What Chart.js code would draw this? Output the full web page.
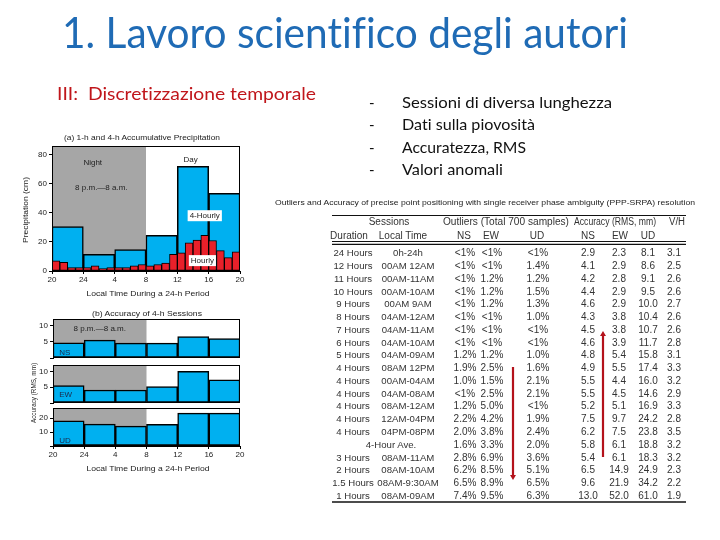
<!DOCTYPE html>
<html>
<head>
<meta charset="utf-8">
<script src="https://cdn.jsdelivr.net/npm/chart.js@4.4.0/dist/chart.umd.min.js"></script>
<style>
  body { margin: 0; background: #fff; }
  #slide { position: relative; width: 720px; height: 540px; overflow: hidden; background: #fff; }
  canvas { position: absolute; }
  svg { position: absolute; left: 0; top: 0; }
  svg text { font-variant-ligatures: none; white-space: pre; }
</style>
</head>
<body>
<div id="slide">
  <canvas id="precip" width="228" height="150" style="left:20px;top:138px"></canvas>
  <canvas id="accNS" width="227" height="55" style="left:21px;top:311px"></canvas>
  <canvas id="accEW" width="227" height="54" style="left:21px;top:357px"></canvas>
  <canvas id="accUD" width="227" height="63" style="left:21px;top:400px"></canvas>
  <svg id="txt" width="720" height="540"></svg>
</div>
<script>
// ore dopo le 20:00, etichette dell'asse
const hourTicks = ['20', '24', '4', '8', '12', '16', '20'];
const nightFrom = 0;   // 20:00
const nightTo = 12;    // 08:00

// (a) precipitazione oraria e su 4 ore (cm)
const hourlyRain = [7, 6, 2.4, 2.4, 2.4, 3.5, 1.6, 2.4, 2.4, 2.4, 3.5, 4.5,
                    3.5, 4.5, 5.4, 11.5, 12.5, 19.3, 21.2, 24.5, 21, 14, 9.2, 13.2];
const fourHourRain = [30.5, 11.5, 14.8, 24.5, 72, 53.4];

// (b) accuratezza sessioni di 4 ore (RMS, mm)
const rmsNS = [4.7, 5.5, 4.6, 4.6, 6.6, 6.0];
const rmsEW = [5.5, 4.1, 4.1, 5.2, 10.0, 7.3];
const rmsUD = [18.1, 15.7, 14.3, 15.5, 23.6, 23.6];

// tabella
const tableHead = ['Duration', 'Local Time', 'NS', 'EW', 'UD', 'NS', 'EW', 'UD'];
const tableRows = [
  ['24 Hours', '0h-24h', '<1%', '<1%', '<1%', '2.9', '2.3', '8.1', '3.1'],
  ['12 Hours', '00AM 12AM', '<1%', '<1%', '1.4%', '4.1', '2.9', '8.6', '2.5'],
  ['11 Hours', '00AM-11AM', '<1%', '1.2%', '1.2%', '4.2', '2.8', '9.1', '2.6'],
  ['10 Hours', '00AM-10AM', '<1%', '1.2%', '1.5%', '4.4', '2.9', '9.5', '2.6'],
  ['9 Hours', '00AM 9AM', '<1%', '1.2%', '1.3%', '4.6', '2.9', '10.0', '2.7'],
  ['8 Hours', '04AM-12AM', '<1%', '<1%', '1.0%', '4.3', '3.8', '10.4', '2.6'],
  ['7 Hours', '04AM-11AM', '<1%', '<1%', '<1%', '4.5', '3.8', '10.7', '2.6'],
  ['6 Hours', '04AM-10AM', '<1%', '<1%', '<1%', '4.6', '3.9', '11.7', '2.8'],
  ['5 Hours', '04AM-09AM', '1.2%', '1.2%', '1.0%', '4.8', '5.4', '15.8', '3.1'],
  ['4 Hours', '08AM 12PM', '1.9%', '2.5%', '1.6%', '4.9', '5.5', '17.4', '3.3'],
  ['4 Hours', '00AM-04AM', '1.0%', '1.5%', '2.1%', '5.5', '4.4', '16.0', '3.2'],
  ['4 Hours', '04AM-08AM', '<1%', '2.5%', '2.1%', '5.5', '4.5', '14.6', '2.9'],
  ['4 Hours', '08AM-12AM', '1.2%', '5.0%', '<1%', '5.2', '5.1', '16.9', '3.3'],
  ['4 Hours', '12AM-04PM', '2.2%', '4.2%', '1.9%', '7.5', '9.7', '24.2', '2.8'],
  ['4 Hours', '04PM-08PM', '2.0%', '3.8%', '2.4%', '6.2', '7.5', '23.8', '3.5'],
  ['4-Hour Ave.', '', '1.6%', '3.3%', '2.0%', '5.8', '6.1', '18.8', '3.2'],
  ['3 Hours', '08AM-11AM', '2.8%', '6.9%', '3.6%', '5.4', '6.1', '18.3', '3.2'],
  ['2 Hours', '08AM-10AM', '6.2%', '8.5%', '5.1%', '6.5', '14.9', '24.9', '2.3'],
  ['1.5 Hours', '08AM-9:30AM', '6.5%', '8.9%', '6.5%', '9.6', '21.9', '34.2', '2.2'],
  ['1 Hours', '08AM-09AM', '7.4%', '9.5%', '6.3%', '13.0', '52.0', '61.0', '1.9'],
];

const cyan = '#00b0f0';
const red = '#e8202a';
const nightGray = '#a6a6a6';
const sans = '"Liberation Sans", Arial, sans-serif';
const tickFont = { family: sans, size: 8 };

Chart.defaults.font.family = sans;
Chart.defaults.color = '#222';

// sfondo notte, cornice e scritte dentro il grafico
function decor(notes) {
  return {
    id: 'decor',
    beforeDatasetsDraw(chart) {
      const { ctx, chartArea: a, scales: { x } } = chart;
      const l = x.getPixelForValue(nightFrom), r = x.getPixelForValue(nightTo);
      ctx.save();
      ctx.fillStyle = nightGray;
      ctx.fillRect(l, a.top, r - l, a.bottom - a.top);
      ctx.restore();
    },
    afterDatasetsDraw(chart) {
      const { ctx, chartArea: a, scales: { x, y } } = chart;
      ctx.save();
      ctx.strokeStyle = '#000';
      ctx.lineWidth = 1;
      ctx.strokeRect(a.left + 0.5, a.top + 0.5, a.right - a.left - 1, a.bottom - a.top - 1);
      ctx.textBaseline = 'middle';
      notes.forEach(n => {
        ctx.font = (n.size || 8) + 'px ' + sans;
        const px = x.getPixelForValue(n.x), py = y.getPixelForValue(n.y);
        const w = ctx.measureText(n.text).width;
        ctx.textAlign = n.align || 'center';
        if (n.box) {
          ctx.fillStyle = '#fff';
          ctx.fillRect(px - w / 2 - 2, py - 6, w + 4, 11);
        }
        ctx.fillStyle = n.color || '#222';
        ctx.fillText(n.text, px, py);
      });
      ctx.restore();
    }
  };
}

function barSet(values, color, width, axis, perHour) {
  return {
    data: values.map((v, i) => ({ x: perHour ? i + 0.5 : i * 4 + 2, y: v })),
    backgroundColor: color,
    borderColor: '#000',
    borderWidth: width,
    borderSkipped: false,
    barPercentage: 1,
    categoryPercentage: 1,
    grouped: false,
    xAxisID: axis,
  };
}

function makeChart(id, datasets, yMax, yStep, opts) {
  const scales = {
    x: {
      type: 'linear', min: 0, max: 24, offset: false, display: opts.showX,
      ticks: { stepSize: 4, autoSkip: false, maxRotation: 0, padding: 1, font: tickFont, color: '#222',
               callback: v => hourTicks[v / 4] },
      grid: { drawOnChartArea: false, offset: false, tickLength: 3, color: '#000' },
      border: { color: '#000' },
      afterFit: s => { s.height = opts.showX ? 17 : 0; },
    },
    y: {
      min: 0, max: yMax,
      ticks: { stepSize: yStep, includeBounds: false, padding: 2, font: tickFont, color: '#222',
               callback: v => (v === 0 && !opts.zero) ? '' : v },
      grid: { drawOnChartArea: false, tickLength: 3, color: '#000' },
      border: { color: '#000' },
      afterFit: s => { s.width = 32; },
    },
  };
  if (opts.x4) {
    scales.x4 = { type: 'linear', min: 0, max: 24, offset: false, display: false, ticks: { stepSize: 4 },
                  afterFit: s => { s.height = 0; } };
  }
  new Chart(document.getElementById(id), {
    type: 'bar',
    data: { datasets },
    options: {
      responsive: false,
      animation: false,
      layout: { padding: { top: 8, right: 8, bottom: opts.showX ? 0 : 8, left: 0 } },
      plugins: { legend: { display: false }, tooltip: { enabled: false } },
      scales,
    },
    plugins: [decor(opts.notes)],
  });
}

makeChart('precip', [
  barSet(hourlyRain, red, 1, 'x', true),
  barSet(fourHourRain, cyan, 1.5, 'x4', false),
], 86, 20, {
  showX: true, zero: true, x4: true,
  notes: [
    { x: 5.2, y: 74.6, text: 'Night' },
    { x: 6.3, y: 57.5, text: '8 p.m.\u20148 a.m.' },
    { x: 17.7, y: 76.7, text: 'Day' },
    { x: 19.5, y: 37.7, text: '4-Hourly', box: true },
    { x: 19.2, y: 6.8, text: 'Hourly', box: true },
  ],
});

makeChart('accNS', [barSet(rmsNS, cyan, 1.5, 'x', false)], 12, 5, {
  showX: false,
  notes: [
    { x: 6.0, y: 9.1, text: '8 p.m.\u20148 a.m.' },
    { x: 0.8, y: 1.5, text: 'NS', align: 'left', color: '#1b2a4a' },
  ],
});
makeChart('accEW', [barSet(rmsEW, cyan, 1.5, 'x', false)], 12, 5, {
  showX: false,
  notes: [{ x: 0.8, y: 2.5, text: 'EW', align: 'left', color: '#1b2a4a' }],
});
makeChart('accUD', [barSet(rmsUD, cyan, 1.5, 'x', false)], 27.3, 10, {
  showX: true,
  notes: [{ x: 0.8, y: 3.6, text: 'UD', align: 'left', color: '#1b2a4a' }],
});

// testi della diapositiva e tabella
const svg = document.getElementById('txt');
const NS = 'http://www.w3.org/2000/svg';
function txt(x, y, s, o = {}) {
  const el = document.createElementNS(NS, 'text');
  el.setAttribute('x', x);
  el.setAttribute('y', y);
  el.setAttribute('font-family', o.family || sans);
  el.setAttribute('font-size', o.size || 10);
  el.setAttribute('fill', o.fill || '#333');
  if (o.anchor) el.setAttribute('text-anchor', o.anchor);
  if (o.len) {
    el.setAttribute('textLength', o.len);
    el.setAttribute('lengthAdjust', 'spacingAndGlyphs');
  }
  if (o.rotate) el.setAttribute('transform', `rotate(-90 ${x} ${y})`);
  el.textContent = s;
  svg.appendChild(el);
}
function line(x1, y1, x2, y2, color, w) {
  const el = document.createElementNS(NS, 'line');
  el.setAttribute('x1', x1); el.setAttribute('y1', y1);
  el.setAttribute('x2', x2); el.setAttribute('y2', y2);
  el.setAttribute('stroke', color); el.setAttribute('stroke-width', w);
  svg.appendChild(el);
}
function arrow(x, yFrom, yTo) {
  const dir = yTo > yFrom ? 1 : -1;
  line(x, yFrom, x, yTo - dir * 4, '#b4121b', 2.2);
  const p = document.createElementNS(NS, 'polygon');
  p.setAttribute('points', `${x - 3},${yTo - dir * 5} ${x + 3},${yTo - dir * 5} ${x},${yTo}`);
  p.setAttribute('fill', '#b4121b');
  svg.appendChild(p);
}

const calibri = 'Lato, "Open Sans", sans-serif';
txt(62, 48, '1. Lavoro scientifico degli autori', { family: calibri, size: 42, fill: '#1f6bb5', len: 566 });
txt(57, 100, 'III:  Discretizzazione temporale', { family: calibri, size: 18, fill: '#c0161b', len: 259 });

const bullets = [['Sessioni di diversa lunghezza', 210], ['Dati sulla piovosit\u00e0', 133],
                 ['Accuratezza, RMS', 124], ['Valori anomali', 101]];
bullets.forEach((b, i) => {
  const y = 108 + i * 22.3;
  txt(369, y, '-', { family: calibri, size: 15, fill: '#111' });
  txt(402, y, b[0], { family: calibri, size: 15, fill: '#111', len: b[1] });
});

// didascalie dei grafici
txt(142, 140, '(a) 1-h and 4-h Accumulative Precipitation', { size: 7.5, anchor: 'middle', fill: '#222', len: 156 });
txt(148, 296, 'Local Time During a 24-h Period', { size: 7.5, anchor: 'middle', fill: '#222', len: 123 });
txt(147, 316, '(b) Accuracy of 4-h Sessions', { size: 7.5, anchor: 'middle', fill: '#222', len: 110 });
txt(148, 471, 'Local Time During a 24-h Period', { size: 7.5, anchor: 'middle', fill: '#222', len: 123 });
txt(28, 210, 'Precipitation (cm)', { size: 7.5, anchor: 'middle', fill: '#222', len: 66, rotate: true });
txt(36, 393, 'Accuracy (RMS, mm)', { size: 7.5, anchor: 'middle', fill: '#222', len: 60, rotate: true });

// tabella
txt(275, 205, 'Outliers and Accuracy of precise point positioning with single receiver phase ambiguity (PPP-SRPA) resolution',
    { size: 7.7, fill: '#222', len: 420 });
line(332, 215.5, 686, 215.5, '#111', 1);
txt(389, 225, 'Sessions', { anchor: 'middle' });
txt(506, 225, 'Outliers (Total 700 samples)', { anchor: 'middle', len: 126 });
txt(615, 225, 'Accuracy (RMS, mm)', { anchor: 'middle', len: 82 });
txt(677, 225, 'V/H', { anchor: 'middle', len: 16 });
const headX = [349, 403, 464, 491, 537, 588, 620, 648];
tableHead.forEach((h, i) => txt(headX[i], 238.5, h, { anchor: 'middle' }));
line(332, 241.5, 686, 241.5, '#111', 1);
line(332, 244.3, 686, 244.3, '#111', 1.2);
const colX = [353, 408, 465, 492, 538, 588, 619, 648, 674];
tableRows.forEach((r, i) => {
  const y = 256.2 + i * 12.77;
  r.forEach((c, j) => {
    if (!c) return;
    const x = (j === 0 && r[1] === '') ? 391 : colX[j];
    txt(x, y, c, { anchor: 'middle', size: j < 2 ? 9.6 : 10 });
  });
});
line(332, 502, 686, 502, '#111', 1.5);

arrow(513, 367, 480);
arrow(603, 457, 331);
</script>
</body>
</html>
